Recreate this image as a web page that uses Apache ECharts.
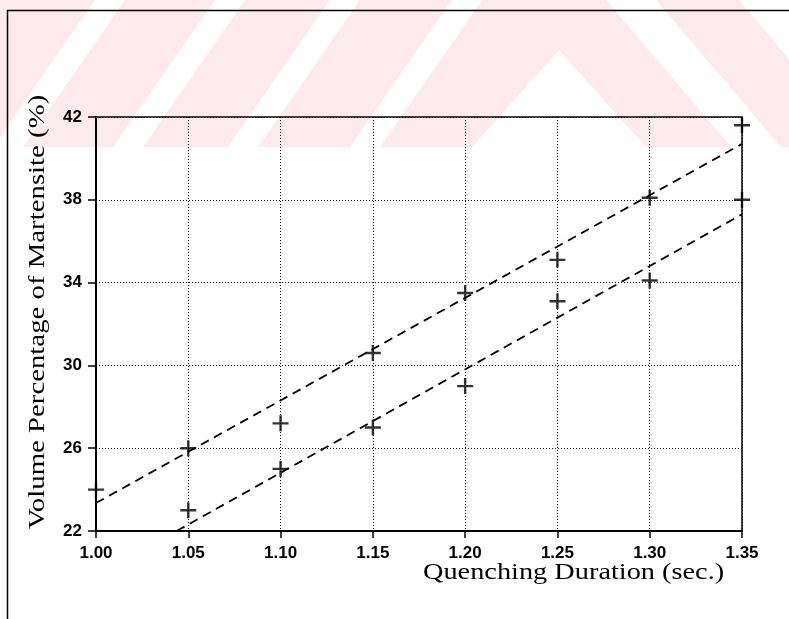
<!DOCTYPE html>
<html>
<head>
<meta charset="utf-8">
<script src="https://cdn.jsdelivr.net/npm/echarts@6/dist/echarts.min.js"></script>
<style>
  html, body { margin: 0; padding: 0; background: #fff; }
  #chart { width: 789px; height: 619px; }
</style>
</head>
<body>
<div id="chart"></div>
<script>
// ---- data ----
const durations = [1.00, 1.05, 1.10, 1.15, 1.20, 1.25, 1.30, 1.35];
const upperValues = [24.0, 26.0, 27.2, 30.6, 33.5, 35.1, 38.1, 41.6];
const lowerDurations = [1.05, 1.10, 1.15, 1.20, 1.25, 1.30, 1.35];
const lowerValues = [23.0, 25.0, 27.0, 29.0, 33.1, 34.1, 38.0];
const upperFitX = [1.00, 1.35];
const upperFitY = [23.35, 40.7];
const lowerFitX = [1.0437, 1.35];
const lowerFitY = [22.0, 37.3];
const xAxisTitle = 'Quenching Duration (sec.)';
const yAxisTitle = 'Volume Percentage of Martensite (%)';

const zip = (xs, ys) => xs.map((x, i) => [x, ys[i]]);
const plusPath = 'path://M6.8,0 H9.2 V6.8 H16 V9.2 H9.2 V16 H6.8 V9.2 H0 V6.8 H6.8 Z';

// watermark shapes (decorative background)
const pink = '#fdeaee';
const wm = [];
wm.push({ type: 'rect', z: -10, silent: true, shape: { x: 0, y: 0, width: 789, height: 147 }, style: { fill: pink } });
[95, 215, 330, 452].forEach(a => {
  const w = 30, s = 102;
  wm.push({ type: 'polygon', z: -9, silent: true,
    shape: { points: [[a, 0], [a + w, 0], [a + w - s, 147], [a - s, 147]] },
    style: { fill: '#fff' } });
});
wm.push({ type: 'polygon', z: -9, silent: true, shape: { points: [[559, 50], [472, 147], [646, 147]] }, style: { fill: '#fff' } });
wm.push({ type: 'polygon', z: -9, silent: true, shape: { points: [[606, 0], [656, 0], [781, 147], [731, 147]] }, style: { fill: '#fff' } });
wm.push({ type: 'polygon', z: -9, silent: true, shape: { points: [[739, 0], [789, 0], [789, 59]] }, style: { fill: '#fff' } });

// outer frame
const frame = [
  { type: 'line', z: 5, silent: true, shape: { x1: 7, y1: 10.5, x2: 789, y2: 10.5 }, style: { stroke: '#000', lineWidth: 1.5 } },
  { type: 'line', z: 5, silent: true, shape: { x1: 7.5, y1: 10, x2: 7.5, y2: 619 }, style: { stroke: '#000', lineWidth: 1.5 } }
];

const titles = [
  { type: 'text', z: 5, x: 423, y: 573, scaleX: 1.18,
    style: { text: xAxisTitle, x: 0, y: 0, font: '24px "Liberation Serif"', fill: '#000',
             align: 'left', verticalAlign: 'middle', textAlign: 'left', textVerticalAlign: 'middle' } },
  { type: 'text', z: 5, x: 38, y: 312, rotation: Math.PI / 2, scaleX: 1.2,
    style: { text: yAxisTitle, x: 0, y: 0, font: '24px "Liberation Serif"', fill: '#000',
             align: 'center', verticalAlign: 'middle', textAlign: 'center', textVerticalAlign: 'middle' } }
];

const chart = echarts.init(document.getElementById('chart'), null, { renderer: 'canvas' });
const tickFont = { color: '#000', fontSize: 17, fontWeight: 'bold', fontFamily: '"Liberation Sans", Arial, sans-serif' };
const dotted = { color: '#000', width: 1, type: [1, 2] };

chart.setOption({
  animation: false,
  backgroundColor: '#fff',
  grid: { left: 96, right: 47, top: 117, bottom: 88, show: true, borderColor: '#000', borderWidth: 1.5, backgroundColor: 'transparent' },
  xAxis: {
    type: 'value', min: 1.00, max: 1.35, interval: 0.05,
    axisLine: { show: true, lineStyle: { color: '#000', width: 2 } },
    axisTick: { show: true, length: 7, lineStyle: { color: '#000', width: 1.5 } },
    axisLabel: Object.assign({ margin: 14, formatter: v => v.toFixed(2) }, tickFont),
    splitLine: { show: true, lineStyle: dotted }
  },
  yAxis: {
    type: 'value', min: 22, max: 42, interval: 4,
    axisLine: { show: true, lineStyle: { color: '#000', width: 2 } },
    axisTick: { show: true, length: 8, lineStyle: { color: '#000', width: 1.5 } },
    axisLabel: Object.assign({ margin: 14, formatter: v => String(Math.round(v)) }, tickFont),
    splitLine: { show: true, lineStyle: dotted }
  },
  graphic: wm.concat(frame, titles),
  series: [
    { name: 'upper', type: 'scatter', data: zip(durations, upperValues), symbol: plusPath, symbolSize: 16,
      itemStyle: { color: '#000' }, clip: false, z: 4 },
    { name: 'lower', type: 'scatter', data: zip(lowerDurations, lowerValues), symbol: plusPath, symbolSize: 16,
      itemStyle: { color: '#000' }, clip: false, z: 4 },
    { name: 'upper fit', type: 'line', data: zip(upperFitX, upperFitY), symbol: 'none',
      lineStyle: { color: '#000', width: 1.8, type: [9, 6] }, z: 3 },
    { name: 'lower fit', type: 'line', data: zip(lowerFitX, lowerFitY), symbol: 'none',
      lineStyle: { color: '#000', width: 1.8, type: [9, 6] }, z: 3 }
  ]
});
</script>
</body>
</html>
